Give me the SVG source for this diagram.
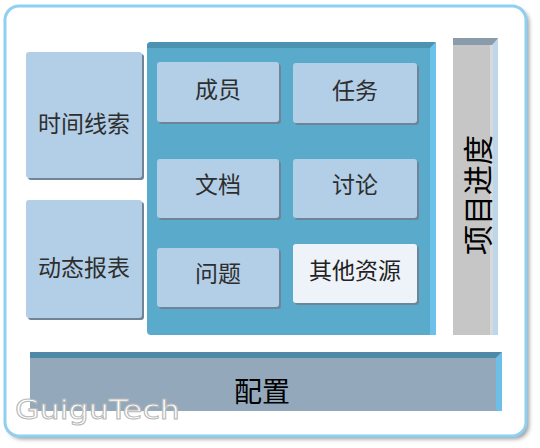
<svg xmlns="http://www.w3.org/2000/svg" width="540" height="448" viewBox="0 0 540 448">
  <defs>
    <filter id="fshadow" x="-5%" y="-5%" width="115%" height="115%">
      <feGaussianBlur stdDeviation="2"/>
    </filter>
  </defs>
  <style>
    .box { fill: #b3cee7; }
    .shd { fill: #6f8597; }
    .lbl { font-family: "Noto Sans CJK SC", "Noto Sans", sans-serif; font-size: 23px; fill: #2e2e2e; text-anchor: middle; dominant-baseline: central; }
    .big { font-family: "Noto Sans CJK SC", "Noto Sans", sans-serif; fill: #000; text-anchor: middle; dominant-baseline: central; }
  </style>

  <g id="frame">
    <rect x="8" y="9" width="521" height="430" rx="14" fill="#9a9a9a" filter="url(#fshadow)"/>
    <rect x="5" y="6" width="521" height="430" rx="14" fill="#ffffff" stroke="#8fd0f0" stroke-width="3"/>
  </g>

  <g id="panel">
    <rect x="147" y="42" width="289" height="293" rx="4" fill="#5aaacb"/>
    <path d="M147,48 V46 Q147,42 151,42 H436 L430,48 Z" fill="#4e92b2"/>
    <polygon points="436,42 436,335 430,335 430,48" fill="#6cc1ea"/>
  </g>

  <g id="node-shijianxiansuo">
    <rect class="shd" x="28" y="54" width="116" height="126" rx="3"/>
    <rect class="box" x="26" y="52" width="116" height="126" rx="3"/>
    <text class="lbl" x="84" y="122">时间线索</text>
  </g>
  <g id="node-dongtaibaobiao">
    <rect class="shd" x="28" y="202" width="116" height="118" rx="3"/>
    <rect class="box" x="26" y="200" width="116" height="118" rx="3"/>
    <text class="lbl" x="84" y="266">动态报表</text>
  </g>

  <g id="node-chengyuan">
    <rect class="shd" x="159" y="64" width="122" height="60" rx="3"/>
    <rect class="box" x="157" y="62" width="122" height="60" rx="3"/>
    <text class="lbl" x="218" y="88">成员</text>
  </g>
  <g id="node-renwu">
    <rect class="shd" x="295" y="65" width="124" height="60" rx="3"/>
    <rect class="box" x="293" y="63" width="124" height="60" rx="3"/>
    <text class="lbl" x="355" y="89">任务</text>
  </g>
  <g id="node-wendang">
    <rect class="shd" x="159" y="161" width="122" height="59" rx="3"/>
    <rect class="box" x="157" y="159" width="122" height="59" rx="3"/>
    <text class="lbl" x="218" y="183">文档</text>
  </g>
  <g id="node-taolun">
    <rect class="shd" x="295" y="161" width="124" height="59" rx="3"/>
    <rect class="box" x="293" y="159" width="124" height="59" rx="3"/>
    <text class="lbl" x="355" y="183">讨论</text>
  </g>
  <g id="node-wenti">
    <rect class="shd" x="159" y="250" width="122" height="59" rx="3"/>
    <rect class="box" x="157" y="248" width="122" height="59" rx="3"/>
    <text class="lbl" x="218" y="272">问题</text>
  </g>
  <g id="node-qitaziyuan">
    <rect class="shd" x="295" y="246" width="124" height="59" rx="3"/>
    <rect x="293" y="244" width="124" height="59" rx="3" fill="#eef2f9"/>
    <text class="lbl" x="355" y="269" style="fill:#222">其他资源</text>
  </g>

  <g id="node-xiangmujindu">
    <rect x="453" y="38" width="45" height="297" fill="#c6c6c6"/>
    <rect x="490" y="44" width="3" height="291" fill="#d9d9d9"/>
    <polygon points="493,44 498,38 498,335 493,335" fill="#bcd6ec"/>
    <polygon points="453,38 498,38 492,45 453,45" fill="#8a9bac"/>
    <text class="big" font-size="30" transform="translate(476,195) rotate(-90)">项目进度</text>
  </g>

  <g id="node-peizhi">
    <rect x="30" y="352" width="472" height="59" fill="#93a9bb"/>
    <polygon points="30,352 502,352 496,358 30,358" fill="#4e8aa8"/>
    <polygon points="502,352 502,411 496,411 496,358" fill="#6cc0e8"/>
    <text class="big" font-size="28" x="262" y="390">配置</text>
  </g>

  <g id="connectors"/>

  <g id="watermark">
    <text x="15" y="419" font-family="DejaVu Sans, sans-serif" font-size="27" textLength="165" lengthAdjust="spacingAndGlyphs" fill="#ffffff" stroke="#b8b8b8" stroke-width="1">GuiguTech</text>
  </g>
</svg>
